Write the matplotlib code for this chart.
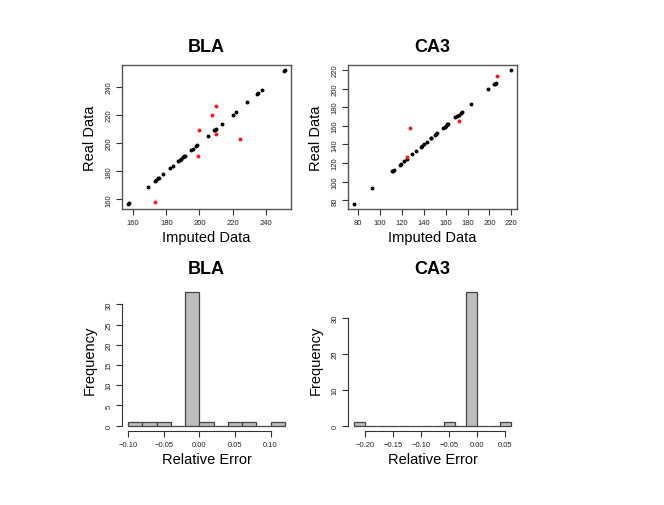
import matplotlib
matplotlib.use("Agg")
import matplotlib.pyplot as plt
import numpy as np

plt.rcParams['font.family'] = ['Liberation Sans', 'DejaVu Sans']

# ---- data ----
bla_black = [157, 157.5, 169, 173, 174, 175, 175.5, 178, 182, 184, 187, 188, 189,
             190, 190.5, 191, 195, 196, 198, 198.5, 205, 209, 209.5, 210, 213.5,
             220, 222, 229, 234.5, 235.5, 237.5, 251, 251.5]
bla_red_x = [173, 199, 200, 207.5, 210, 210, 224.5]
bla_red_y = [158.5, 191, 209, 220, 226, 206.5, 202.5]

ca3_black = [76.5, 93, 111, 112, 113, 118, 119, 122, 124.5, 129.5, 133, 137.5,
             138.5, 140, 143, 146.5, 150, 151, 152.5, 158, 159, 161.5, 162, 169,
             170, 172, 174, 175, 183, 199, 204.5, 205, 206, 219.5, 147, 160]
ca3_red_x = [125, 127, 172.5, 206.5]
ca3_red_y = [126.5, 157.5, 165.5, 213.5]

bla_edges = [-0.10, -0.08, -0.06, -0.04, -0.02, 0.00, 0.02, 0.04, 0.06, 0.08, 0.10, 0.12]
bla_counts = [1, 1, 1, 0, 33, 1, 0, 1, 1, 0, 1]

ca3_edges = [-0.22, -0.20, -0.18, -0.16, -0.14, -0.12, -0.10, -0.08, -0.06, -0.04,
             -0.02, 0.00, 0.02, 0.04, 0.06]
ca3_counts = [1, 0, 0, 0, 0, 0, 0, 0, 1, 0, 37, 0, 0, 1]

W, H = 664, 506
fig = plt.figure(figsize=(W / 100, H / 100), dpi=100)


def rect(l, t, r, b):
    return [l / W, 1 - b / H, (r - l) / W, (b - t) / H]


def r_lim(vals):
    lo, hi = min(vals), max(vals)
    d = (hi - lo) * 0.04
    return lo - d, hi + d


TICK_FS = 5.5
LAB_FS = 10.5
TITLE_FS = 13
AXCOL = '#333333'


def style_ticks(ax):
    ax.tick_params(axis='both', length=4, width=0.8, color=AXCOL, labelsize=TICK_FS,
                   pad=3, labelcolor='#222222', direction='out')
    ax.tick_params(axis='y', labelrotation=90)
    for lbl in ax.get_yticklabels():
        lbl.set_va('center')


def scatter_panel(box, blk, rx, ry, ticks, title):
    ax = fig.add_axes(rect(*box))
    allx = list(blk) + list(rx)
    ally = list(blk) + list(ry)
    ax.scatter(blk, blk, s=8, c='black', linewidths=0, zorder=3)
    ax.scatter(rx, ry, s=8, c='#ff1a1a', linewidths=0, zorder=3)
    ax.set_xlim(*r_lim(allx))
    ax.set_ylim(*r_lim(ally))
    ax.set_xticks(ticks)
    ax.set_yticks(ticks)
    for s in ax.spines.values():
        s.set_color('#555555')
        s.set_linewidth(1.0)
    style_ticks(ax)
    ax.set_xlabel('Imputed Data', fontsize=LAB_FS, labelpad=3)
    ax.set_ylabel('Real Data', fontsize=LAB_FS, labelpad=6)
    ax.set_title(title, fontsize=TITLE_FS, fontweight='bold', pad=10)
    return ax


def hist_panel(box, edges, counts, xticks, yticks, title):
    ax = fig.add_axes(rect(*box))
    edges = np.asarray(edges)
    widths = np.diff(edges)
    ax.bar(edges[:-1], counts, width=widths, align='edge', color='#bebebe',
           edgecolor='#444444', linewidth=0.9)
    ax.set_xlim(*r_lim(edges))
    ax.set_ylim(*r_lim([0] + list(counts)))
    ax.set_xticks(xticks)
    ax.set_yticks(yticks)
    ax.set_xticklabels([f'{t:.2f}'.replace('-', '\u2212') for t in xticks])
    for sp in ['top', 'right']:
        ax.spines[sp].set_visible(False)
    ax.spines['left'].set_bounds(yticks[0], yticks[-1])
    ax.spines['bottom'].set_bounds(xticks[0], xticks[-1])
    for sp in ['left', 'bottom']:
        ax.spines[sp].set_color(AXCOL)
        ax.spines[sp].set_linewidth(0.8)
    style_ticks(ax)
    ax.set_xlabel('Relative Error', fontsize=LAB_FS, labelpad=3)
    ax.set_ylabel('Frequency', fontsize=LAB_FS, labelpad=6)
    ax.set_title(title, fontsize=TITLE_FS, fontweight='bold', pad=10)
    return ax


scatter_panel((122, 66, 291, 210), bla_black, bla_red_x, bla_red_y,
              [160, 180, 200, 220, 240], 'BLA')
scatter_panel((348, 66, 517, 210), ca3_black, ca3_red_x, ca3_red_y,
              [80, 100, 120, 140, 160, 180, 200, 220], 'CA3')
hist_panel((122, 288, 291, 432), bla_edges, bla_counts,
           [-0.10, -0.05, 0.00, 0.05, 0.10], [0, 5, 10, 15, 20, 25, 30], 'BLA')
hist_panel((348, 288, 517, 432), ca3_edges, ca3_counts,
           [-0.20, -0.15, -0.10, -0.05, 0.00, 0.05], [0, 10, 20, 30], 'CA3')

fig.savefig('out.png', dpi=100)
